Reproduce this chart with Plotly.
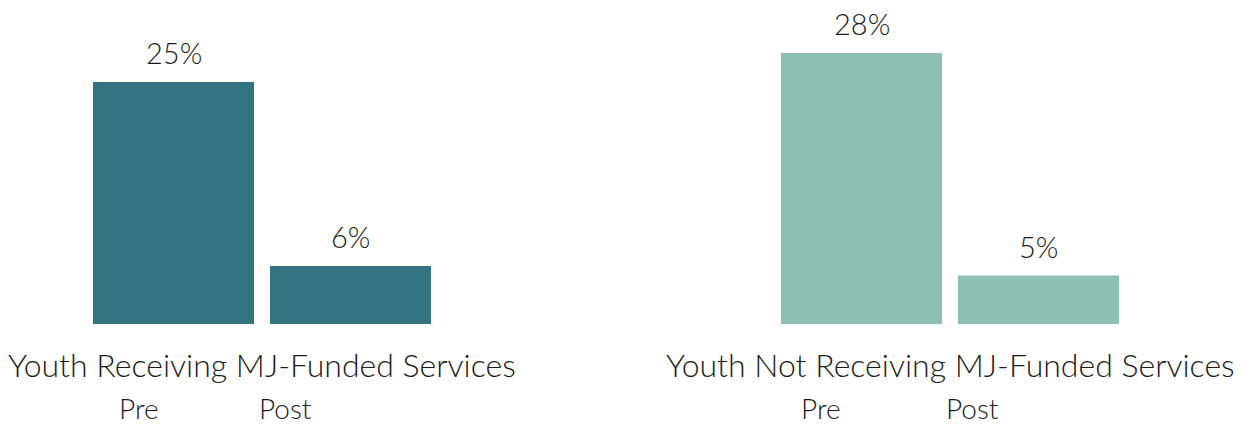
import plotly.graph_objects as go
from plotly.subplots import make_subplots

# Share of youth, before and after, for each group
groups = ["Youth Receiving MJ-Funded Services", "Youth Not Receiving MJ-Funded Services"]
periods = ["Pre", "Post"]
receiving = [25, 6]
not_receiving = [28, 5]
value_labels = [["25%", "6%"], ["28%", "5%"]]
colors = ["#347480", "#8DC0B3"]

FONT = "Lato Light, Lato, sans-serif"
TEXT_COLOR = "#1a1a1a"

W, H = 1246, 425
fig = make_subplots(rows=1, cols=2, horizontal_spacing=0.0)

for i, vals in enumerate([receiving, not_receiving]):
    fig.add_trace(
        go.Bar(
            x=periods,
            y=vals,
            marker=dict(color=colors[i], line=dict(width=0)),
            showlegend=False,
            hoverinfo="skip",
        ),
        row=1,
        col=i + 1,
    )
    xref = "x" if i == 0 else "x2"
    for p, v, lab in zip(periods, vals, value_labels[i]):
        fig.add_annotation(
            x=p, y=v, xref=xref, yref="y" if i == 0 else "y2",
            text=lab, showarrow=False, xanchor="center", yanchor="middle", yshift=29,
            font=dict(family=FONT, size=29, color=TEXT_COLOR, weight=300),
        )

# group titles under the axes
title_x = [262 / W, 950 / W]
for i in range(2):
    fig.add_annotation(
        x=title_x[i], xref="paper", y=0, yref="paper",
        text=groups[i], showarrow=False, xanchor="center", yanchor="middle", yshift=-40,
        font=dict(family=FONT, size=32, color=TEXT_COLOR, weight=300),
    )

# Pre / Post captions under each group title
period_x = [[139 / W, 285 / W], [821 / W, 972 / W]]
for i in range(2):
    for p, fx in zip(periods, period_x[i]):
        fig.add_annotation(
            x=fx, xref="paper", y=0, yref="paper",
            text=p, showarrow=False, xanchor="center", yanchor="middle", yshift=-84,
            borderpad=0,
            font=dict(family=FONT, size=28, color=TEXT_COLOR, weight=300),
        )

fig.update_layout(
    width=W,
    height=H,
    margin=dict(l=0, r=0, t=0, b=101),
    paper_bgcolor="white",
    plot_bgcolor="white",
    bargap=16 / 177,
    xaxis=dict(domain=[85 / W, 439 / W], showticklabels=False, showgrid=False,
               zeroline=False, showline=False, ticks=""),
    xaxis2=dict(domain=[773 / W, 1127 / W], showticklabels=False, showgrid=False,
                zeroline=False, showline=False, ticks=""),
    yaxis=dict(range=[0, 33.47], visible=False, showgrid=False),
    yaxis2=dict(range=[0, 33.47], visible=False, showgrid=False),
)

fig.write_html("out.html")
